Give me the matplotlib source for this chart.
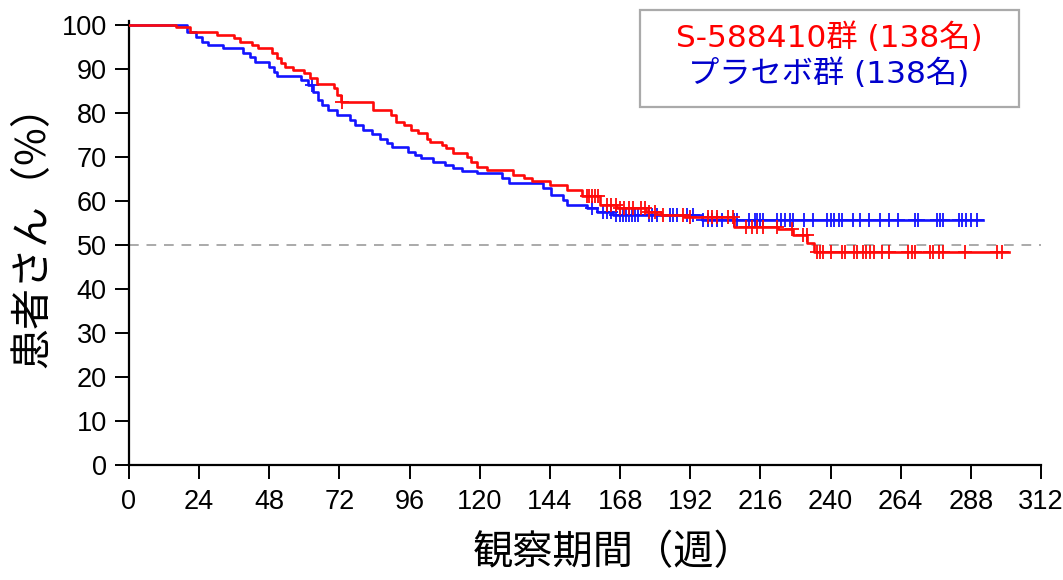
import numpy as np
import matplotlib.pyplot as plt
from matplotlib.patches import Rectangle

# 生存曲線データ（週, %）
red_t = [0, 16, 21, 30, 36, 38, 42, 44, 49, 50.5, 52, 53.5, 56, 60, 61.8, 64.3,
         70, 71.3, 72.5, 83.5, 89.5, 91.5, 94, 96.5, 99, 101.8, 103, 107, 108.5,
         111, 115.6, 117, 119, 122.5, 131.4, 135, 138, 144, 150, 155, 161, 167,
         177, 182, 190, 207, 222, 227, 232, 234.5, 301]
red_s = [100, 99.5, 98.5, 97.7, 97, 96.2, 95.5, 94.7, 93.6, 92.4, 91.3, 90.5, 89.8,
         89, 87.9, 86.7, 85.6, 84, 82.4, 80.7, 79.5, 78, 77.3, 76.1, 75.4, 74.2,
         73.5, 72.7, 72, 71, 70, 68.9, 67.7, 67, 66, 65.2, 64.6, 63.6, 62.5, 61.1,
         59.2, 58.4, 57.6, 56.8, 56.3, 54.2, 53.6, 52.3, 50.4, 48.3, 48.3]

blue_t = [0, 20, 23, 25, 27, 32, 39, 41.3, 43, 48, 49.5, 50.6, 59, 61.3, 63, 64.5,
          66, 68, 71, 75.6, 77.3, 80, 83, 86, 88.3, 90, 95.5, 98, 100, 104, 108,
          111, 114, 119, 127.5, 130, 141.6, 144.5, 148.5, 150, 156.6, 160, 165.7,
          196, 292]
blue_s = [100, 98.5, 97.3, 96.2, 95.5, 94.7, 93.6, 92.7, 91.7, 90.5, 89.4, 88.3,
          87.5, 86.4, 84.8, 83, 81.8, 80.7, 79.5, 78.4, 77.3, 76.1, 75.2, 74.2,
          73.1, 72.2, 71.2, 70.5, 69.7, 68.9, 68.2, 67.4, 66.8, 66.3, 65.2, 64.2,
          62.9, 61.4, 60.2, 59, 58.4, 57.5, 56.8, 55.6, 55.6]

# 打ち切り（週）
red_cens = [73, 156.6, 157.5, 158.5, 159.5, 160.5, 163.5, 165, 166.5, 168, 169.5,
            171, 172.5, 175, 176.5, 178, 180, 182.7, 189.5, 192, 198, 199.5, 201,
            205, 206.5, 211, 213, 215, 217, 221.6, 226.8, 230.5, 231.8, 235.4,
            236.4, 237.4, 240, 244, 245, 248, 249, 251, 252, 253.5, 255, 257.6,
            260, 266.5, 267.7, 269, 274, 275, 277, 278.5, 286, 297, 298.7]
blue_cens = [62.5, 158.3, 162, 163.5, 165, 166.5, 168, 169, 170, 171, 172, 173, 174,
             178, 179, 180.5, 185, 186, 187.5, 191, 193, 196.5, 198, 199.5, 201,
             203, 207, 208, 212, 214, 215, 216, 217, 221.6, 223, 224.5, 226, 227,
             231, 234, 238.7, 240, 241.3, 243, 244, 247.7, 250, 253, 257, 260, 263,
             269, 270, 276.4, 277.5, 278.5, 284, 285, 286.5, 288, 290]

x_ticks = list(range(0, 313, 24))
y_ticks = list(range(0, 101, 10))

RED = '#ff0a0a'
BLUE = '#1414ff'


def step_value(t, s, x):
    i = np.searchsorted(t, x, side='right') - 1
    return np.array(s)[i]


plt.rcParams['font.family'] = ['Liberation Sans', 'DejaVu Sans']
jp = ['Noto Sans CJK JP', 'DejaVu Sans']
legend_font = ['DejaVu Sans', 'Noto Sans CJK JP']

fig = plt.figure(figsize=(10.63, 5.8), dpi=100)
ax = fig.add_axes([129 / 1063, 115 / 580, 912 / 1063, 444.4 / 580])

ax.axhline(50, color='#aaaaaa', lw=1.4, ls=(0, (5, 4)), zorder=1)

ax.step(blue_t, blue_s, where='post', color=BLUE, lw=1.9, zorder=2)
ax.step(red_t, red_s, where='post', color=RED, lw=1.9, zorder=3)

ax.plot(blue_cens, step_value(blue_t, blue_s, blue_cens), ls='none', marker='+',
        ms=10, mew=1.3, color=BLUE, zorder=2)
ax.plot(red_cens, step_value(red_t, red_s, red_cens), ls='none', marker='+',
        ms=10, mew=1.3, color=RED, zorder=3)

ax.set_xlim(0, 312)
ax.set_ylim(0, 101)
ax.set_xticks(x_ticks)
ax.set_yticks(y_ticks)
ax.spines['top'].set_visible(False)
ax.spines['right'].set_visible(False)
for sp in ('left', 'bottom'):
    ax.spines[sp].set_linewidth(1.6)
ax.tick_params(axis='both', direction='out', length=10, width=1.4, labelsize=19.5,
               colors='black')
ax.tick_params(axis='x', pad=7)
ax.tick_params(axis='y', pad=6)

fig.text(33 / 1063, 1 - 226 / 580, '患者さん（%）', rotation=90, ha='center',
         va='center', fontsize=29.5, family=jp)
fig.text(614 / 1063, 1 - 553 / 580, '観察期間（週）', ha='center', va='center',
         fontsize=29, family=jp)

# 凡例ボックス
fig.patches.append(Rectangle((640 / 1063, 1 - 107 / 580), 379 / 1063, 97 / 580,
                             transform=fig.transFigure, fill=False,
                             edgecolor='#aaaaaa', lw=1.6))
fig.text(829 / 1063, 1 - 38 / 580, 'S-588410群 (138名)', ha='center', va='center',
         fontsize=22.5, color='#ff0000', family=legend_font)
fig.text(829 / 1063, 1 - 74 / 580, 'プラセボ群 (138名)', ha='center', va='center',
         fontsize=22.5, color='#0000cc', family=legend_font)

plt.savefig('out.png', dpi=100)
